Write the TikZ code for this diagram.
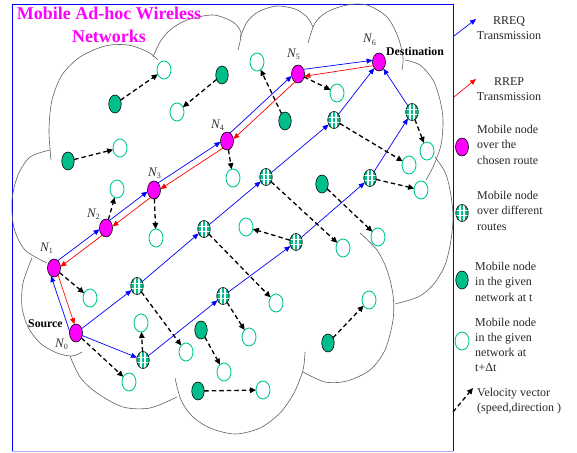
\documentclass[tikz,border=0pt]{standalone}
\usepackage{fontspec}
\setmainfont{Liberation Serif}
\usetikzlibrary{arrows.meta,shapes.geometric}
\definecolor{mag}{RGB}{255,0,255}
\definecolor{tealf}{RGB}{0,190,140}
\definecolor{tealo}{RGB}{0,200,150}
\definecolor{cloudc}{RGB}{95,95,95}
\definecolor{lblue}{RGB}{170,170,255}
\tikzset{
  basenode/.style={ellipse,inner sep=0pt,outer sep=0pt},
  chosen/.style={basenode,draw=black,fill=mag,minimum width=13pt,minimum height=18pt,line width=0.6pt},
  given/.style={basenode,draw=black,fill=tealf,minimum width=12.5pt,minimum height=18pt,line width=0.6pt},
  future/.style={basenode,draw=tealo,fill=white,minimum width=14pt,minimum height=18pt,line width=0.9pt},
  diffr/.style={basenode,draw=black,fill=tealf,minimum width=12.5pt,minimum height=17pt,line width=0.6pt,
    path picture={
      \draw[white,line width=1.1pt]
        ([xshift=-2pt]path picture bounding box.north) -- ([xshift=-2pt]path picture bounding box.south)
        ([xshift=2pt]path picture bounding box.north) -- ([xshift=2pt]path picture bounding box.south)
        ([yshift=-2.7pt]path picture bounding box.west) -- ([yshift=-2.7pt]path picture bounding box.east)
        ([yshift=2.7pt]path picture bounding box.west) -- ([yshift=2.7pt]path picture bounding box.east);}},
  rreq/.style={draw=blue,line width=0.7pt,-{Triangle[length=6pt,width=5pt]}},
  rrep/.style={draw=red,line width=0.7pt,-{Triangle[length=6pt,width=5pt]}},
  vel/.style={draw=black,line width=1.3pt,dash pattern=on 4.5pt off 3pt,-{Triangle[length=6pt,width=5.5pt]}},
  cloud/.style={draw=cloudc,line width=0.6pt},
  nlab/.style={anchor=base west,inner sep=0pt,font=\fontsize{13}{13}\selectfont\itshape,text=black!80},
  boldlab/.style={anchor=base west,inner sep=0pt,font=\fontsize{11.8}{12}\selectfont\bfseries},
  titletext/.style={anchor=base,inner sep=0pt,text=mag,font=\fontsize{18}{18}\selectfont\bfseries},
  legtext/.style={inner sep=0pt,font=\fontsize{12}{15.3}\selectfont,text=black!85},
}
\newcommand{\sbs}[1]{\raisebox{-2.2pt}{\upshape\fontsize{8}{8}\selectfont #1}}
\begin{document}
\begin{tikzpicture}[x=1pt,y=-1pt]
\useasboundingbox (0,0) rectangle (577,452);
% frame
\draw[lblue,line width=0.8pt] (12,451) -- (453,451);
\draw[blue,line width=0.8pt] (12,451) -- (12,4) -- (453,4) -- (453,451);
% cloud
\draw[cloud] plot[smooth] coordinates {(51,160) (49,130) (52,100) (62,75) (80,57) (105,46) (128,45) (148,52) (158,60)};
\draw[cloud] plot[smooth] coordinates {(153,57) (160,42) (170,30) (187,20) (213,15) (233,22) (241,33) (238,50)};
\draw[cloud] plot[smooth] coordinates {(240,38) (247,22) (258,12) (276,6) (295,9) (307,17) (313,27)};
\draw[cloud] plot[smooth] coordinates {(308,43) (315,23) (327,12) (347,5) (367,5) (387,17) (398,37) (403,57) (402,70)};
\draw[cloud] plot[smooth] coordinates {(405,60) (420,65) (433,80) (440,100) (443,120) (441,145) (433,167) (426,180)};
\draw[cloud] plot[smooth] coordinates {(435,157) (445,172) (450,190) (453,215) (451,240) (445,265) (433,285) (418,297) (395,304)};
\draw[cloud] plot[smooth] coordinates {(360,233) (377,250) (387,270) (393,295) (393,320) (385,350) (370,370) (347,381) (325,382) (303,372)};
\draw[cloud] plot[smooth] coordinates {(305,352) (303,370) (294,393) (280,413) (260,428) (235,434) (210,428) (192,416) (181,400) (175,378)};
\draw[cloud] plot[smooth] coordinates {(177,397) (150,408) (123,407) (97,393) (80,377) (70,356)};
\draw[cloud] plot[smooth] coordinates {(32,258) (23,283) (22,307) (28,327) (40,343) (57,353) (72,356) (82,352)};
\draw[cloud] plot[smooth] coordinates {(50,150) (30,157) (18,175) (12,200) (14,228) (25,250) (47,263)};
% title
\node[titletext] (title1) at (109,20) {Mobile Ad-hoc Wireless};
\node[titletext] (title2) at (109,43) {Networks};
% chosen route nodes
\node[chosen] (N0) at (76,333) {};
\node[chosen] (N1) at (54,268) {};
\node[chosen] (N2) at (106,228) {};
\node[chosen] (N3) at (154,190) {};
\node[chosen] (N4) at (227,141) {};
\node[chosen] (N5) at (298,74) {};
\node[chosen] (N6) at (379,62) {};
% different-route nodes
\node[diffr] (G1) at (137,286) {};
\node[diffr] (G2) at (143,360) {};
\node[diffr] (G3) at (204,229) {};
\node[diffr] (G4) at (223,296) {};
\node[diffr] (G5) at (266,177) {};
\node[diffr] (G6) at (296,242) {};
\node[diffr] (G7) at (334,120) {};
\node[diffr] (G8) at (370,178) {};
\node[diffr] (G9) at (412,112) {};
% given nodes at t
\node[given] (F1) at (115,104) {};
\node[given] (F2) at (222,75) {};
\node[given] (F3) at (68,161) {};
\node[given] (F4) at (285,121) {};
\node[given] (F5) at (322,184) {};
\node[given] (F6) at (201,330) {};
\node[given] (F7) at (198,391) {};
\node[given] (F8) at (328,343) {};
% nodes at t+dt
\node[future] (O1) at (164,70) {};
\node[future] (O2) at (177,112) {};
\node[future] (O3) at (120,148) {};
\node[future] (O4) at (257,62) {};
\node[future] (O5) at (378,237) {};
\node[future] (O6) at (224,372) {};
\node[future] (O7) at (263,390) {};
\node[future] (O8) at (369,300) {};
\node[future] (O9) at (117,189) {};
\node[future] (O10) at (156,238) {};
\node[future] (O11) at (233,178) {};
\node[future] (O12) at (337,93) {};
\node[future] (O13) at (90,298) {};
\node[future] (O14) at (129,382) {};
\node[future] (O15) at (141,323) {};
\node[future] (O16) at (186,352) {};
\node[future] (O17) at (276,303) {};
\node[future] (O18) at (249,337) {};
\node[future] (O19) at (246,227) {};
\node[future] (O20) at (343,248) {};
\node[future] (O21) at (409,165) {};
\node[future] (O22) at (421,190) {};
\node[future] (O23) at (427,151) {};
% labels
\node[nlab] (l0) at (55,347) {N\sbs{0}};
\node[nlab] (l1) at (40,251) {N\sbs{1}};
\node[nlab] (l2) at (87,217) {N\sbs{2}};
\node[nlab] (l3) at (148,176) {N\sbs{3}};
\node[nlab] (l4) at (211,128) {N\sbs{4}};
\node[nlab] (l5) at (287,57) {N\sbs{5}};
\node[nlab] (l6) at (363,43) {N\sbs{6}};
\node[boldlab] (src) at (28,327) {Source};
\node[boldlab] (dst) at (386,56) {Destination};
% RREQ / RREP along chosen route
\draw[rreq] (N0.165) -- (N1.250);
\draw[rrep] (N1.300) -- (N0.100);
\draw[rreq] (N1.63) -- (N2.191);
\draw[rrep] (N2.243) -- (N1.11);
\draw[rreq] (N2.65) -- (N3.193);
\draw[rrep] (N3.245) -- (N2.13);
\draw[rreq] (N3.60) -- (N4.188);
\draw[rrep] (N4.240) -- (N3.8);
\draw[rreq] (N4.69) -- (N5.197);
\draw[rrep] (N5.249) -- (N4.17);
\draw[rreq] (N5.40) -- (N6.165);
\draw[rrep] (N6.212) -- (N5.340);
% other RREQ routes
\draw[rreq] (N0) -- (G1);
\draw[rreq] (G1) -- (G3);
\draw[rreq] (G3) -- (G5);
\draw[rreq] (G5) -- (G7);
\draw[rreq] (G7) -- (N6);
\draw[rreq] (N0) -- (G2);
\draw[rreq] (G2) -- (G4);
\draw[rreq] (G4) -- (G6);
\draw[rreq] (G6) -- (G8);
\draw[rreq] (G8) -- (G9);
\draw[rreq] (G9) -- (N6);
% velocity vectors
\draw[vel] (F1) -- (O1);
\draw[vel] (F2) -- (O2);
\draw[vel] (F3) -- (O3);
\draw[vel] (F4) -- (O4);
\draw[vel] (F5) -- (O5);
\draw[vel] (F6) -- (O6);
\draw[vel] (F7) -- (O7);
\draw[vel] (F8) -- (O8);
\draw[vel] (N2) -- (O9);
\draw[vel] (N3) -- (O10);
\draw[vel] (N4) -- (O11);
\draw[vel] (N5) -- (O12);
\draw[vel] (N1) -- (O13);
\draw[vel] (N0) -- (O14);
\draw[vel] (G2) -- (O15);
\draw[vel] (G1) -- (O16);
\draw[vel] (G3) -- (O17);
\draw[vel] (G4) -- (O18);
\draw[vel] (G6) -- (O19);
\draw[vel] (G5) -- (O20);
\draw[vel] (G7) -- (O21);
\draw[vel] (G8) -- (O22);
\draw[vel] (G9) -- (O23);
% legend
\coordinate (qa) at (454,36);
\coordinate (qb) at (476,19);
\draw[rreq] (qa) -- (qb);
\node[legtext,anchor=north,align=center] (lq) at (509,16) {RREQ\\Transmission};
\coordinate (pa) at (454,97);
\coordinate (pb) at (476,79);
\draw[rrep] (pa) -- (pb);
\node[legtext,anchor=north,align=center] (lp) at (509,77) {RREP\\Transmission};
\node[chosen] (k1) at (462,147) {};
\node[legtext,anchor=north west,align=left] (t1) at (477,125) {Mobile node\\over the\\chosen route};
\node[diffr] (k2) at (462,213) {};
\node[legtext,anchor=north west,align=left] (t2) at (477,191) {Mobile node\\over different\\routes};
\node[given] (k3) at (462,280) {};
\node[legtext,anchor=north west,align=left] (t3) at (475,262) {Mobile node\\in the given\\network at t};
\node[future] (k4) at (462,341) {};
\node[legtext,anchor=north west,align=left] (t4) at (475,317.5) {Mobile node\\in the given\\network at\\t+Δt};
\coordinate (va) at (453,412);
\coordinate (vb) at (473,388);
\draw[vel] (va) -- (vb);
\node[legtext,anchor=north west,align=left] (t5) at (477,388) {Velocity vector\\(speed,direction )};
\end{tikzpicture}
\end{document}
